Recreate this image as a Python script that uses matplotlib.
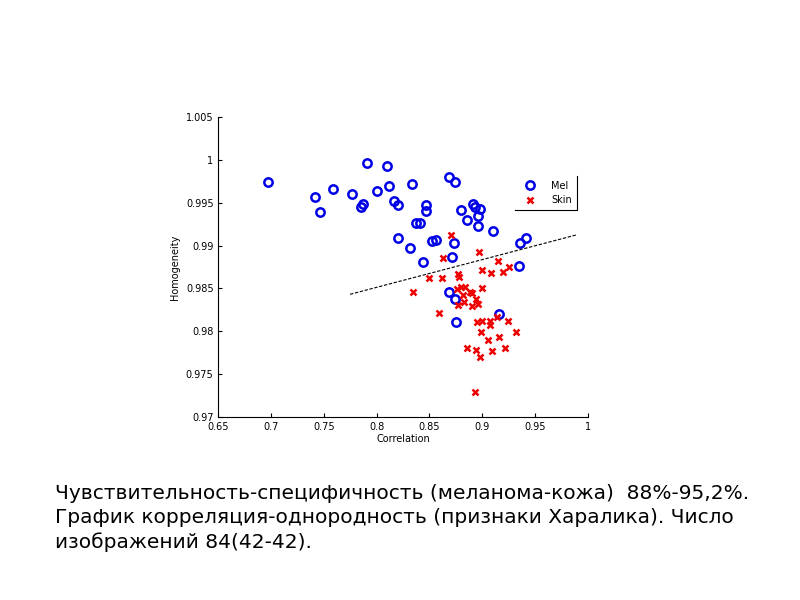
import matplotlib
matplotlib.use("Agg")
import matplotlib.pyplot as plt
from matplotlib.lines import Line2D
from matplotlib.ticker import FormatStrFormatter

# Mel (melanoma) samples
mel_corr = [0.6967, 0.7419, 0.7467, 0.7583, 0.7763, 0.7868, 0.7852, 0.7912, 0.8003, 0.8095,
            0.8117, 0.8165, 0.8199, 0.8199, 0.8335, 0.8319, 0.8370, 0.8414, 0.8465, 0.8471,
            0.8443, 0.8521, 0.8566, 0.8689, 0.8746, 0.8736, 0.8717, 0.8689, 0.8746, 0.8752,
            0.8796, 0.8856, 0.8916, 0.8935, 0.8980, 0.8957, 0.8957, 0.9106, 0.9163, 0.9358,
            0.9412, 0.9346]
mel_homog = [0.99744, 0.99569, 0.99393, 0.99662, 0.99608, 0.99483, 0.99448, 0.99962, 0.99643, 0.99935,
             0.99693, 0.99518, 0.99471, 0.99093, 0.99717, 0.98976, 0.99268, 0.99268, 0.99475, 0.99401,
             0.98812, 0.99050, 0.99066, 0.99806, 0.99748, 0.99031, 0.98867, 0.98458, 0.98372, 0.98103,
             0.99417, 0.99300, 0.99487, 0.99456, 0.99424, 0.99350, 0.99230, 0.99175, 0.98205, 0.99035,
             0.99089, 0.98762]

# Skin samples
skin_corr = [0.8702, 0.8632, 0.8967, 0.8500, 0.8623, 0.8341, 0.8591, 0.8768, 0.8781, 0.8762,
             0.8800, 0.8837, 0.8818, 0.8885, 0.8907, 0.8774, 0.8825, 0.8907, 0.8942, 0.8964,
             0.8995, 0.8998, 0.9087, 0.9147, 0.9197, 0.9257, 0.8951, 0.8998, 0.9077, 0.9071,
             0.9141, 0.9242, 0.8989, 0.9321, 0.9052, 0.9160, 0.8859, 0.8938, 0.9213, 0.9096,
             0.8976, 0.8935]
skin_homog = [0.99120, 0.98859, 0.98929, 0.98625, 0.98618, 0.98458, 0.98216, 0.98664, 0.98629, 0.98493,
              0.98512, 0.98512, 0.98423, 0.98454, 0.98442, 0.98310, 0.98345, 0.98298, 0.98376, 0.98318,
              0.98719, 0.98509, 0.98680, 0.98820, 0.98692, 0.98754, 0.98103, 0.98119, 0.98123, 0.98068,
              0.98162, 0.98119, 0.97994, 0.97994, 0.97893, 0.97932, 0.97799, 0.97784, 0.97807, 0.97768,
              0.97698, 0.97285]

# separating line
sep_x = [0.7748, 0.9889]
sep_y = [0.98431, 0.99124]

xticks = [0.65, 0.7, 0.75, 0.8, 0.85, 0.9, 0.95, 1.0]
yticks = [0.97, 0.975, 0.98, 0.985, 0.99, 0.995, 1.0, 1.005]

caption = ("Чувствительность-специфичность (меланома-кожа)  88%-95,2%.\n"
           "График корреляция-однородность (признаки Харалика). Число\n"
           "изображений 84(42-42).")

fig = plt.figure(figsize=(8, 6), dpi=100)
ax = fig.add_axes([0.273, 0.3055, 0.4617, 0.499])

ax.plot(mel_corr, mel_homog, 'o', color='#0000e6', mfc='none', mew=1.8, ms=6, label='Mel')
ax.plot(skin_corr, skin_homog, 'x', color='#ee0000', mew=1.8, ms=4, label='Skin')
ax.plot(sep_x, sep_y, '--', color='black', lw=0.8, dashes=(3, 1.5))

ax.set_xlim(0.65, 1.0)
ax.set_ylim(0.97, 1.005)
ax.set_xticks(xticks)
ax.set_yticks(yticks)
ax.xaxis.set_major_formatter(FormatStrFormatter('%g'))
ax.yaxis.set_major_formatter(FormatStrFormatter('%g'))
ax.tick_params(direction='in', length=3, labelsize=7, width=0.8)
ax.spines['top'].set_visible(False)
ax.spines['right'].set_visible(False)
ax.set_xlabel('Correlation', fontsize=7, labelpad=2)
ax.set_ylabel('Homogeneity', fontsize=7, labelpad=4)

leg = ax.legend(loc='lower right', bbox_to_anchor=(0.984, 0.673), fontsize=7,
                frameon=False, handletextpad=1.2, borderpad=0.5)

# legend box drawn only on the right and bottom sides
fig.canvas.draw()
bb = leg.get_window_extent().transformed(fig.transFigure.inverted())
fig.add_artist(Line2D([bb.x0, bb.x1, bb.x1], [bb.y0, bb.y0, bb.y1],
                      transform=fig.transFigure, color='black', lw=0.8))

fig.text(0.069, 0.193, caption, fontsize=14.5, family='DejaVu Sans',
         ha='left', va='top', linespacing=1.32)

fig.savefig('out.png', dpi=100)
